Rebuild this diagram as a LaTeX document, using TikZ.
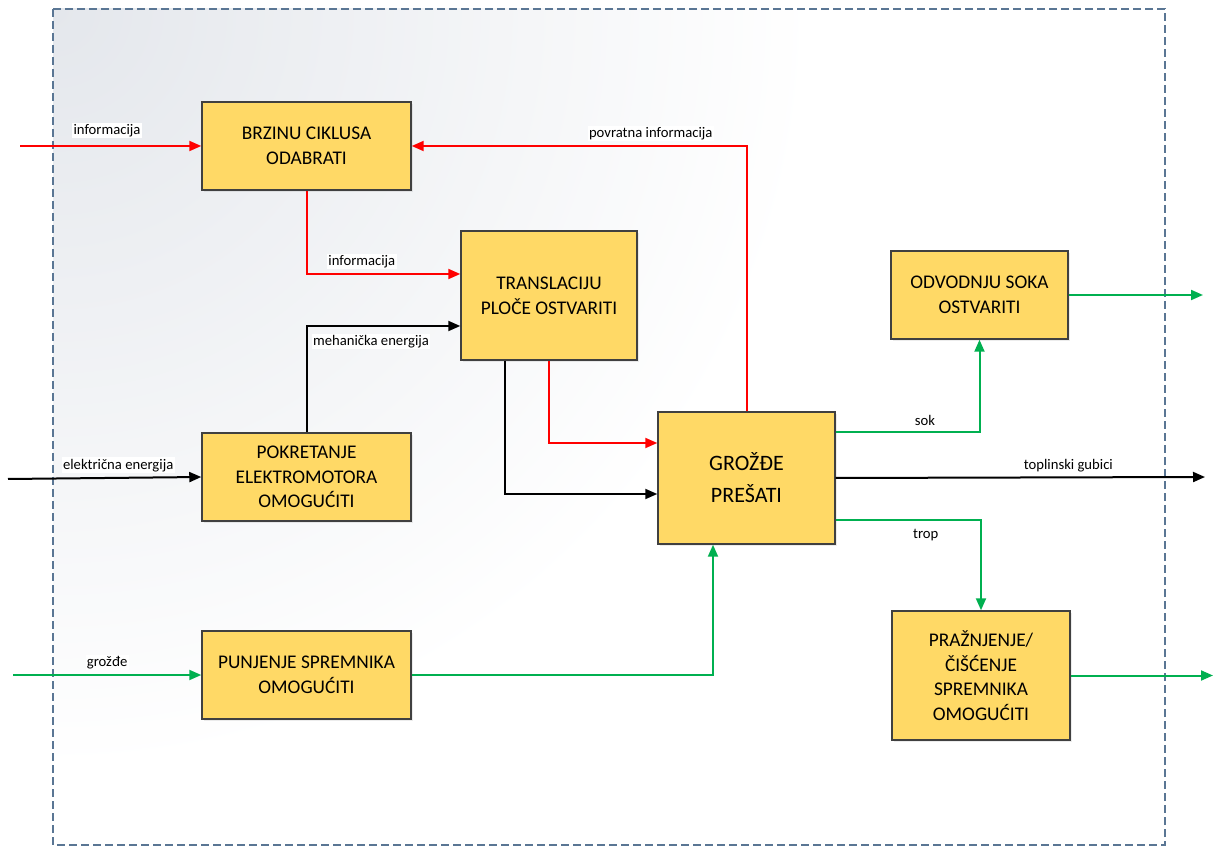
\documentclass[tikz,border=0pt]{standalone}
\usepackage{fontspec}
\setmainfont{Carlito}
\usepackage{tikz}
\usetikzlibrary{positioning,arrows.meta,calc,shadows}
\definecolor{fnYellow}{RGB}{255,217,102}
\definecolor{fnBorder}{RGB}{64,64,64}
\definecolor{fnRed}{RGB}{255,0,0}
\definecolor{fnGreen}{RGB}{0,176,80}
\definecolor{fnFrame}{RGB}{90,118,148}
\definecolor{fnShade}{RGB}{228,231,236}
\tikzset{
    base/.style={align=center, text=black},
    funcbox/.style={base, rectangle, draw=fnBorder, line width=1.1pt, fill=fnYellow,
                    inner sep=0pt, font=\fontsize{14.5}{18.5}\selectfont,
                    drop shadow={opacity=0.15, shadow xshift=1.2pt, shadow yshift=-1.2pt}},
    flow/.style={-{Triangle[length=9pt,width=7.5pt]}, line width=1.5pt},
    redflow/.style={flow, color=fnRed},
    greenflow/.style={flow, color=fnGreen},
    blackflow/.style={flow, color=black},
    flowlabel/.style={base, font=\fontsize{11}{13}\selectfont, fill=white, inner sep=1pt}
}

\begin{document}
\begin{tikzpicture}[x=0.75pt, y=-0.75pt]
  \useasboundingbox (0,0) rectangle (1215,852);
  % frame
  \begin{scope}
    \clip (53,9) rectangle (1165,845);
    \fill[white] (53,9) rectangle (1165,845);
    \shade[inner color=fnShade, outer color=white] (53,9) circle (760);
  \end{scope}
  \draw[fnFrame, line width=1pt, dash pattern=on 6pt off 3pt] (53,9) rectangle (1165,845);

  % functions
  \node[funcbox, minimum width=156.75pt, minimum height=66pt] (brzina) at (306.5,146) {BRZINU CIKLUSA\\ODABRATI};
  \node[funcbox, minimum width=132pt, minimum height=96.75pt] (translacija) at (549,295.5) {TRANSLACIJU\\PLOČE OSTVARITI};
  \node[funcbox, minimum width=156.75pt, minimum height=66pt] (pokretanje) at (306.5,477) {POKRETANJE\\ELEKTROMOTORA\\OMOGUĆITI};
  \node[funcbox, minimum width=156.75pt, minimum height=66pt] (punjenje) at (306.5,675) {PUNJENJE SPREMNIKA\\OMOGUĆITI};
  \node[funcbox, minimum width=132.75pt, minimum height=99pt, font=\fontsize{16.5}{24}\selectfont] (presanje) at (746.5,478) {GROŽĐE\\PREŠATI};
  \node[funcbox, minimum width=132.75pt, minimum height=66pt] (odvodnja) at (979.5,295) {ODVODNJU SOKA\\OSTVARITI};
  \node[funcbox, minimum width=133.5pt, minimum height=96.75pt] (praznjenje) at (981,675.5) {PRAŽNJENJE/\\ČIŠĆENJE\\SPREMNIKA\\OMOGUĆITI};

  % free ends
  \coordinate (inInfo) at (20,146);
  \coordinate (inElec) at (8,479);
  \coordinate (inGrape) at (13,675);
  \coordinate (outHeat) at (1205,477);
  \coordinate (outJuice) at (1203,295);
  \coordinate (outTrop) at (1213,675.5);

  % inputs
  \draw[redflow] (inInfo) -- node[flowlabel, pos=0.48, above=5pt] (lInfo) {informacija} (brzina.west);
  \draw[blackflow] (inElec) -- node[flowlabel, pos=0.57, above=3pt] (lElec) {električna energija} (pokretanje.west);
  \draw[greenflow] (inGrape) -- node[flowlabel, pos=0.5, above=3pt] (lGrape) {grožđe} (punjenje.west);

  % internal flows
  \draw[redflow] (presanje.north) |- node[flowlabel, pos=0.643, above=3pt] (lFeedback) {povratna informacija} (brzina.east);
  \draw[redflow] (brzina.south) |- node[flowlabel, pos=0.68, above=3pt] (lInfo2) {informacija} ($(translacija.west)+(0,-21.5)$);
  \draw[blackflow] (pokretanje.north) |- node[flowlabel, pos=0.71, below=5pt] (lMech) {mehanička energija} ($(translacija.west)+(0,30.5)$);
  \draw[redflow] (translacija.south) |- ($(presanje.west)+(0,-35)$);
  \draw[blackflow] ($(translacija.south)+(-44,0)$) |- ($(presanje.west)+(0,16)$);
  \draw[greenflow] (punjenje.east) -| ($(presanje.south)+(-33.5,0)$);

  % outputs
  \draw[greenflow] ($(presanje.east)+(0,-46)$) -| node[flowlabel, pos=0.31, above=3pt] (lJuice) {sok} (odvodnja.south);
  \draw[blackflow] (presanje.east) -- node[flowlabel, pos=0.63, above=2pt] (lHeat) {toplinski gubici} (outHeat);
  \draw[greenflow] ($(presanje.east)+(0,42)$) -| node[flowlabel, pos=0.31, below=5pt] (lTrop) {trop} (praznjenje.north);
  \draw[greenflow] (odvodnja.east) -- (outJuice);
  \draw[greenflow] (praznjenje.east) -- (outTrop);
\end{tikzpicture}
\end{document}
